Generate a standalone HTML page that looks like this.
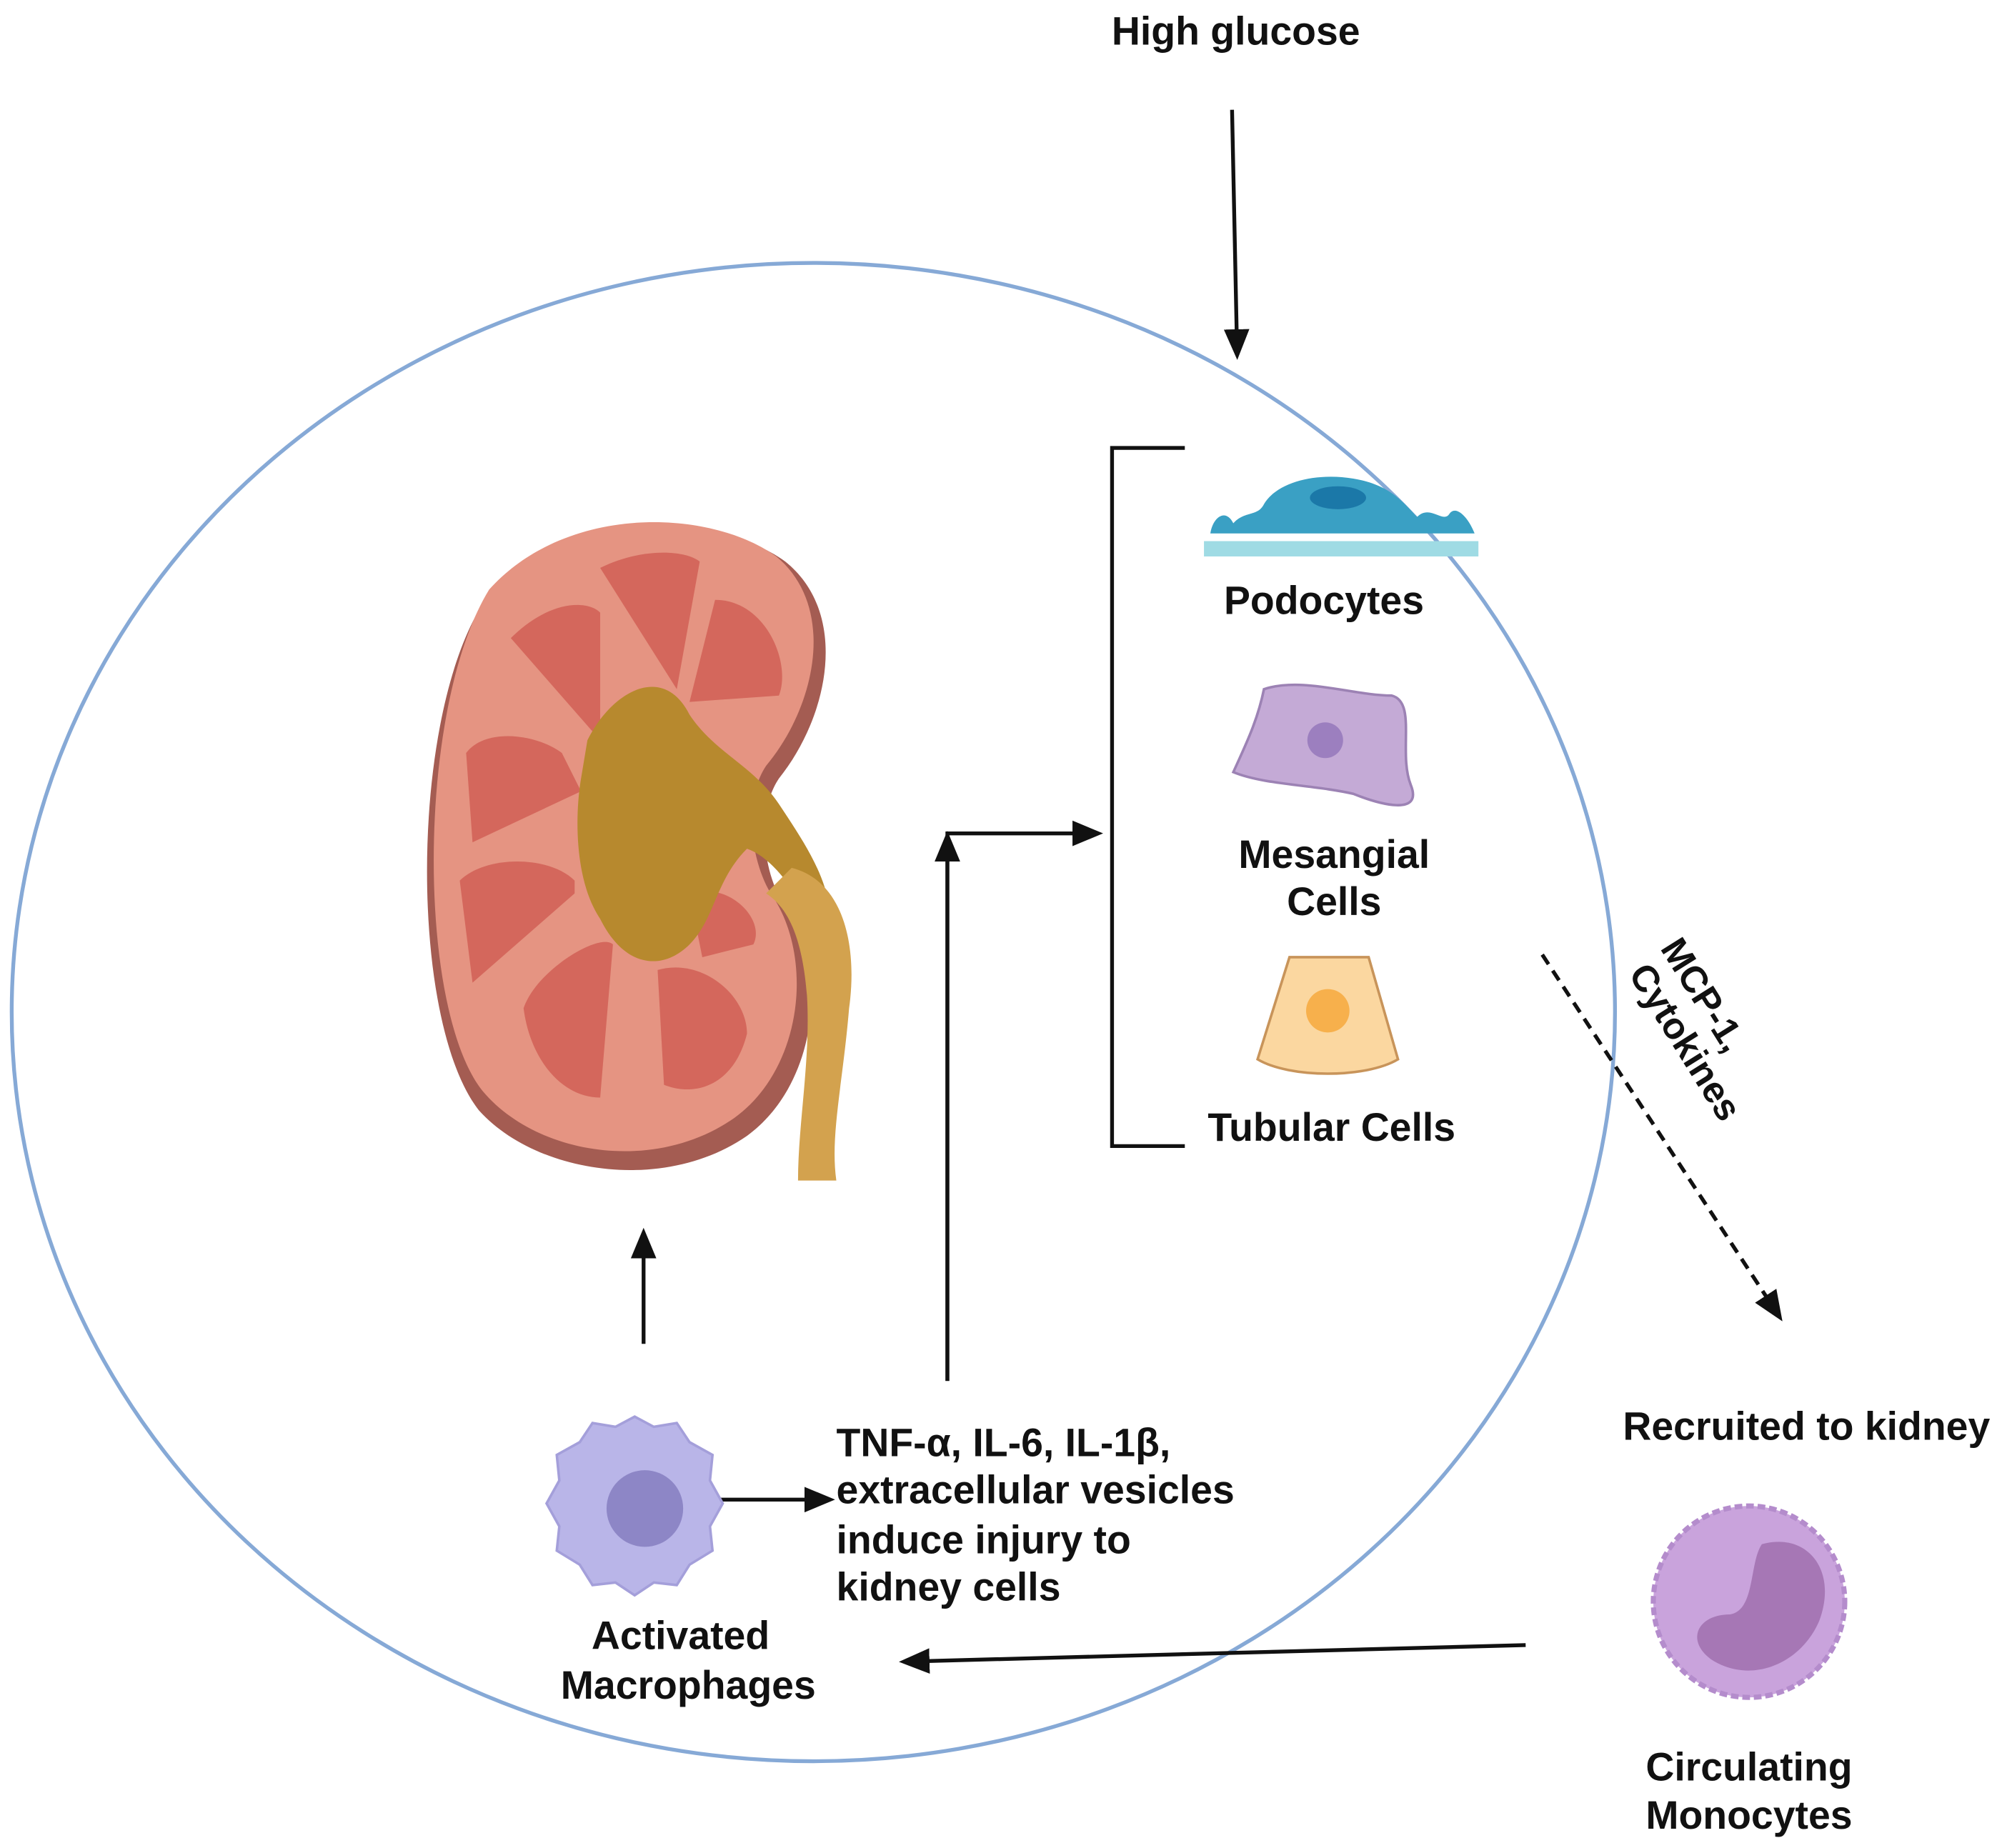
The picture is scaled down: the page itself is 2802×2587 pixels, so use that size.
<!DOCTYPE html>
<html><head><meta charset="utf-8"><style>
html,body{margin:0;padding:0;background:#fff;}
svg{display:block;}
text{font-family:"Liberation Sans",Arial,sans-serif;font-weight:bold;fill:#111;}
</style></head><body>
<svg width="2802" height="2587" viewBox="0 0 1568 1448" xmlns="http://www.w3.org/2000/svg">
<defs>
<marker id="ah2" markerWidth="24" markerHeight="24" refX="20" refY="12" orient="auto" markerUnits="userSpaceOnUse" viewBox="0 0 24 24">
<path d="M0,2 L24,12 L0,22 z" fill="#111"/></marker>
</defs>
<rect width="1568" height="1448" fill="#fff"/>
<ellipse cx="637" cy="793" rx="628" ry="587" fill="none" stroke="#86a9d6" stroke-width="3"/>

<text x="968" y="35" font-size="31" text-anchor="middle">High glucose</text>
<line x1="965" y1="86" x2="969" y2="278" stroke="#111" stroke-width="3" marker-end="url(#ah2)"/>

<!-- kidney -->
<g>
<path d="M380,470 C440,400 560,400 615,440 C665,480 650,560 610,610 C590,640 600,690 615,710 C650,760 640,850 585,890 C520,935 420,920 375,870 C320,800 320,560 380,470 z" fill="#a45c52"/>
<path d="M383,462 C443,395 555,398 608,436 C655,475 640,552 600,600 C580,630 590,680 605,702 C638,752 628,838 575,876 C512,920 420,905 378,855 C326,790 326,555 383,462 z" fill="#e59482"/>
<g fill="#d4675c">
<path d="M470,445 C500,430 535,430 548,440 L530,540 z"/>
<path d="M560,470 C600,470 620,520 610,545 L540,550 z"/>
<path d="M400,500 C430,470 460,470 470,480 L470,580 z"/>
<path d="M365,590 C380,570 420,575 440,590 L455,620 L370,660 z"/>
<path d="M360,690 C380,670 430,670 450,690 L450,700 L370,770 z"/>
<path d="M410,790 C420,760 470,730 480,740 L470,860 C440,860 415,830 410,790 z"/>
<path d="M515,760 C550,750 585,780 585,810 C575,850 545,860 520,850 z"/>
<path d="M540,700 C570,690 600,720 590,740 L550,750 z"/>
</g>
<path d="M460,580 C480,540 520,520 540,560 C560,590 590,600 610,630 C630,660 650,690 650,720 L632,720 C620,690 600,670 585,665 C560,690 560,720 540,740 C520,760 490,760 470,720 C450,690 450,640 455,610 z" fill="#b7892e"/>
<path d="M620,680 C660,690 672,740 665,790 C660,850 650,890 655,925 L625,925 C625,880 635,830 632,780 C628,730 615,710 600,700 z" fill="#d3a24e"/>
</g>

<polyline points="928,351 871,351 871,898 928,898" fill="none" stroke="#111" stroke-width="3"/>

<rect x="943" y="424" width="215" height="12" fill="#9fdbe4"/>
<path d="M948,418 C950,405 960,398 966,410 C975,400 985,405 990,395 C1000,378 1030,370 1060,375 C1090,380 1100,395 1110,405 C1120,395 1130,410 1135,403 C1140,395 1150,405 1155,418 z" fill="#3aa0c4"/>
<ellipse cx="1048" cy="390" rx="22" ry="9" fill="#1b78a8"/>
<text x="1037" y="481" font-size="31" text-anchor="middle">Podocytes</text>

<path d="M990,540 C1020,530 1060,545 1090,545 C1110,550 1095,590 1105,615 C1115,640 1080,630 1060,622 C1030,615 990,615 966,605 C975,585 985,565 990,540 z" fill="#c4aad6" stroke="#9c82b4" stroke-width="2"/>
<circle cx="1038" cy="580" r="14" fill="#9c7fbf"/>
<text x="1045" y="680" font-size="31" text-anchor="middle">Mesangial</text>
<text x="1045" y="717" font-size="31" text-anchor="middle">Cells</text>

<path d="M1010,750 L1072,750 L1095,830 C1070,845 1010,845 985,830 z" fill="#fbd7a0" stroke="#c8945a" stroke-width="2"/>
<circle cx="1040" cy="792" r="17" fill="#f7b04c"/>
<text x="1043" y="894" font-size="31" text-anchor="middle">Tubular Cells</text>

<polyline points="742,1082 742,653 860,653" fill="none" stroke="#111" stroke-width="3" marker-end="url(#ah2)"/>
<line x1="742" y1="1082" x2="742" y2="655" stroke="#111" stroke-width="3" marker-end="url(#ah2)"/>
<line x1="504" y1="1053" x2="504" y2="966" stroke="#111" stroke-width="3" marker-end="url(#ah2)"/>
<line x1="553" y1="1175" x2="650" y2="1175" stroke="#111" stroke-width="3" marker-end="url(#ah2)"/>
<line x1="1195" y1="1289" x2="708" y2="1302" stroke="#111" stroke-width="3" marker-end="url(#ah2)"/>
<line x1="1208" y1="748" x2="1394" y2="1032" stroke="#111" stroke-width="3" stroke-dasharray="9,6" marker-end="url(#ah2)"/>

<text transform="translate(1300,743) rotate(58)" font-size="29">MCP-1,</text>
<text transform="translate(1275,763) rotate(58)" font-size="29">Cytokines</text>

<path d="M497,1110 L512,1118 L530,1115 L540,1130 L558,1140 L556,1160 L566,1178 L556,1196 L558,1215 L540,1226 L530,1242 L512,1240 L497,1250 L482,1240 L464,1242 L454,1226 L436,1215 L438,1196 L428,1178 L438,1160 L436,1140 L454,1130 L464,1115 L482,1118 z" fill="#b9b5e8" stroke="#a49fda" stroke-width="2"/>
<circle cx="505" cy="1182" r="30" fill="#8d86c6"/>

<text x="655" y="1141" font-size="31">TNF-α, IL-6, IL-1β,</text>
<text x="655" y="1178" font-size="31">extracellular vesicles</text>
<text x="655" y="1217" font-size="31">induce injury to</text>
<text x="655" y="1254" font-size="31">kidney cells</text>

<text x="533" y="1292" font-size="31" text-anchor="middle">Activated</text>
<text x="539" y="1331" font-size="31" text-anchor="middle">Macrophages</text>

<text x="1415" y="1128" font-size="31" text-anchor="middle">Recruited to kidney</text>

<circle cx="1370" cy="1255" r="75" fill="#c9a3dc" stroke="#b48ccc" stroke-width="4" stroke-dasharray="6,3"/>
<path d="M1380,1210 C1415,1200 1440,1230 1425,1270 C1410,1305 1370,1320 1340,1300 C1320,1285 1330,1265 1355,1265 C1375,1262 1370,1225 1380,1210 z" fill="#a677b5"/>
<text x="1370" y="1395" font-size="31" text-anchor="middle">Circulating</text>
<text x="1370" y="1433" font-size="31" text-anchor="middle">Monocytes</text>
</svg>
</body></html>
